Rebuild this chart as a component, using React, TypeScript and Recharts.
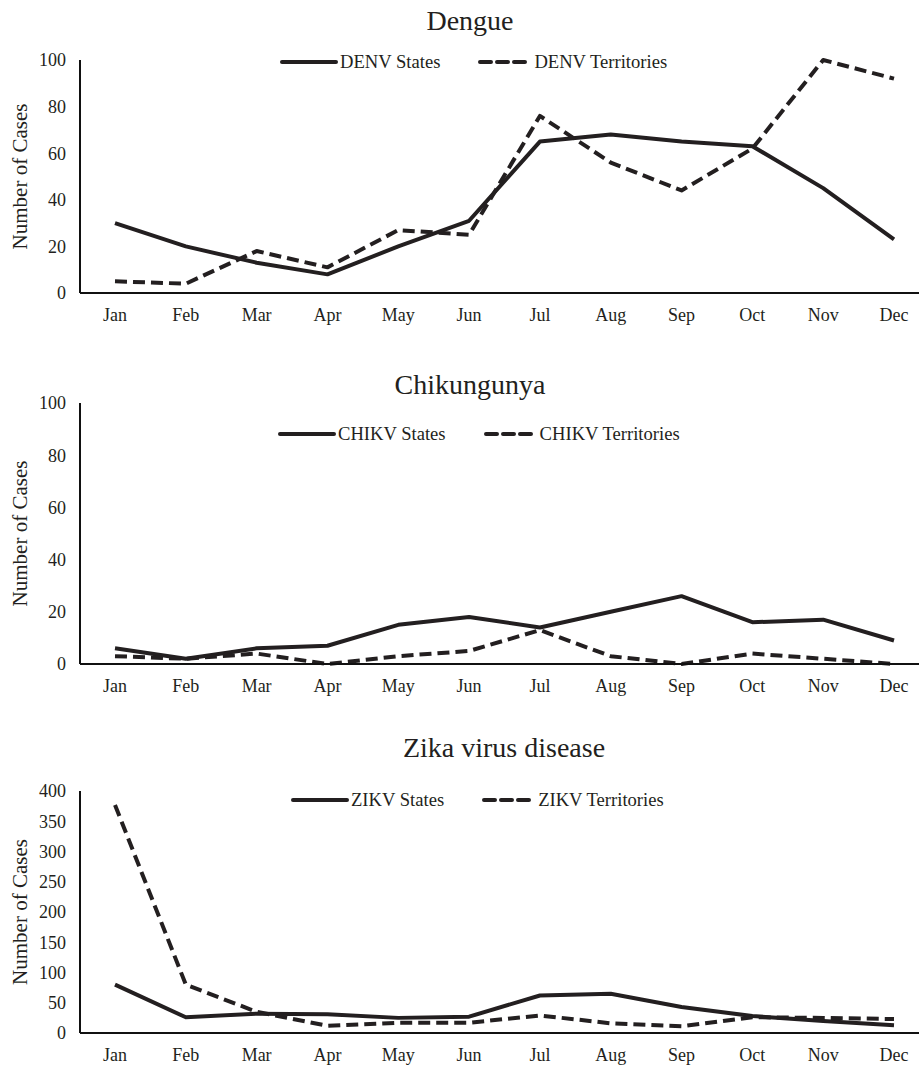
import React from "react";
import { CartesianGrid, Label, Line, LineChart, XAxis, YAxis } from "recharts";

const months = ["Jan", "Feb", "Mar", "Apr", "May", "Jun", "Jul", "Aug", "Sep", "Oct", "Nov", "Dec"];

const denvStates = [30, 20, 13, 8, 20, 31, 65, 68, 65, 63, 45, 23];
const denvTerritories = [5, 4, 18, 11, 27, 25, 76, 56, 44, 62, 100, 92];

const chikvStates = [6, 2, 6, 7, 15, 18, 14, 20, 26, 16, 17, 9];
const chikvTerritories = [3, 2, 4, 0, 3, 5, 13, 3, 0, 4, 2, 0];

const zikvStates = [80, 26, 32, 31, 25, 27, 62, 65, 43, 28, 20, 13];
const zikvTerritories = [377, 80, 35, 12, 17, 17, 29, 16, 11, 26, 25, 23];

const ticks100 = [0, 20, 40, 60, 80, 100];
const ticks400 = [0, 50, 100, 150, 200, 250, 300, 350, 400];

const INK = "#231f20";
const FONT = "'Liberation Serif', 'Times New Roman', serif";

const buildRows = (states: number[], territories: number[]) =>
  months.map((m, i) => ({ month: m, states: states[i], territories: territories[i] }));

const YLabel = (props: any) => {
  const vb = props.viewBox || { x: 0, y: 0, height: 0 };
  const cx = 20;
  const cy = vb.y + vb.height / 2;
  return (
    <text
      x={cx}
      y={cy}
      transform={`rotate(-90 ${cx} ${cy})`}
      textAnchor="middle"
      dominantBaseline="central"
      fill={INK}
      fontSize={21}
      fontFamily={FONT}
    >
      Number of Cases
    </text>
  );
};

type PanelProps = {
  title: string;
  titleX: number;
  titleY: number;
  plotTop: number;
  plotHeight: number;
  legendLeft: number;
  legendY: number;
  statesName: string;
  territoriesName: string;
  states: number[];
  territories: number[];
  domainMax: number;
  ticks: number[];
};

function Panel(p: PanelProps) {
  const data = buildRows(p.states, p.territories);
  const chartTop = p.plotTop - 10;
  return (
    <>
      <div
        style={{
          position: "absolute",
          left: p.titleX - 200,
          width: 400,
          top: p.titleY - 16,
          height: 32,
          lineHeight: "32px",
          textAlign: "center",
          fontSize: 28,
          color: INK,
        }}
      >
        {p.title}
      </div>
      <div style={{ position: "absolute", left: 0, top: chartTop }}>
        <LineChart
          width={940}
          height={10 + p.plotHeight + 40}
          data={data}
          margin={{ top: 10, right: 11, left: 0, bottom: 0 }}
        >
          <CartesianGrid stroke="none" />
          <XAxis
            dataKey="month"
            height={40}
            padding={{ left: 35, right: 35 }}
            tickLine={false}
            tickMargin={9}
            axisLine={{ stroke: "#111", strokeWidth: 2 }}
            tick={{ fill: INK, fontSize: 18, fontFamily: FONT }}
            interval={0}
          />
          <YAxis
            width={80}
            domain={[0, p.domainMax]}
            ticks={p.ticks}
            tickLine={false}
            tickMargin={8}
            axisLine={{ stroke: "#111", strokeWidth: 2 }}
            tick={{ fill: INK, fontSize: 18, fontFamily: FONT }}
            interval={0}
          >
            <Label content={<YLabel />} />
          </YAxis>
          <Line
            type="linear"
            dataKey="states"
            name={p.statesName}
            stroke={INK}
            strokeWidth={4}
            dot={false}
            strokeLinejoin="round"
            isAnimationActive={false}
          />
          <Line
            type="linear"
            dataKey="territories"
            name={p.territoriesName}
            stroke={INK}
            strokeWidth={4}
            strokeDasharray="12 6"
            dot={false}
            strokeLinejoin="round"
            isAnimationActive={false}
          />
        </LineChart>
      </div>
      <div
        style={{
          position: "absolute",
          left: p.legendLeft,
          top: p.legendY - 12,
          height: 24,
          display: "flex",
          alignItems: "center",
          fontSize: 18.6,
          color: INK,
          whiteSpace: "nowrap",
        }}
      >
        <svg width={58} height={8} style={{ marginRight: 2 }}>
          <line x1={2} y1={4} x2={56} y2={4} stroke={INK} strokeWidth={4} strokeLinecap="round" />
        </svg>
        <span>{p.statesName}</span>
        <svg width={50} height={8} style={{ marginLeft: 38, marginRight: 6 }}>
          <line x1={2} y1={4} x2={48} y2={4} stroke={INK} strokeWidth={4} strokeDasharray="11 6" strokeLinecap="round" />
        </svg>
        <span>{p.territoriesName}</span>
      </div>
    </>
  );
}

export default function App() {
  return (
    <div
      style={{
        position: "absolute",
        left: 0,
        top: 0,
        width: 919,
        height: 1066,
        overflow: "hidden",
        background: "#fff",
        fontFamily: FONT,
      }}
    >
      <Panel
        title="Dengue"
        titleX={470}
        titleY={21}
        plotTop={60}
        plotHeight={233}
        legendLeft={280}
        legendY={62}
        statesName="DENV States"
        territoriesName="DENV Territories"
        states={denvStates}
        territories={denvTerritories}
        domainMax={100}
        ticks={ticks100}
      />
      <Panel
        title="Chikungunya"
        titleX={470}
        titleY={385}
        plotTop={403}
        plotHeight={261}
        legendLeft={278}
        legendY={434}
        statesName="CHIKV States"
        territoriesName="CHIKV Territories"
        states={chikvStates}
        territories={chikvTerritories}
        domainMax={100}
        ticks={ticks100}
      />
      <Panel
        title="Zika virus disease"
        titleX={504}
        titleY={748}
        plotTop={791}
        plotHeight={242}
        legendLeft={291}
        legendY={800}
        statesName="ZIKV States"
        territoriesName="ZIKV Territories"
        states={zikvStates}
        territories={zikvTerritories}
        domainMax={400}
        ticks={ticks400}
      />
    </div>
  );
}
